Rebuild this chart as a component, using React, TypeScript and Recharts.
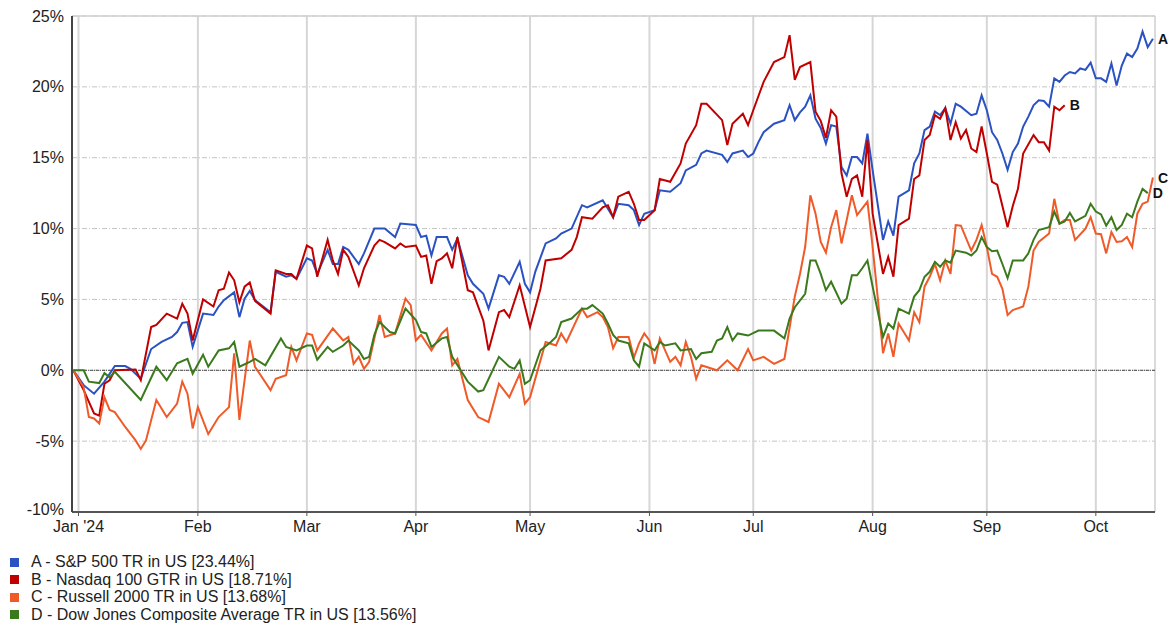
import React from 'react'
import {
  LineChart,
  Line,
  XAxis,
  YAxis,
  CartesianGrid,
  ReferenceLine,
  ReferenceDot,
} from 'recharts'

// x = trading-day index, 0 = 29 Dec 2023 (base date)
const monthTicks = [1, 24, 45, 66, 88, 111, 131, 154, 176, 197]
const monthLabels = ["Jan '24", 'Feb', 'Mar', 'Apr', 'May', 'Jun', 'Jul', 'Aug', 'Sep', 'Oct']
const yTicks = [-10, -5, 0, 5, 10, 15, 20, 25]

const spxDays = [0, 2, 4, 6, 7, 8, 10, 11, 13, 15, 17, 19, 20, 21, 22, 23, 25, 27, 28, 29, 31, 32, 33, 34, 35, 38, 39, 41, 42, 43, 45, 46, 47, 49, 50, 51, 52, 53, 55, 56, 58, 60, 62, 63, 66, 67, 68, 69, 70, 72, 73, 74, 76, 77, 79, 80, 82, 83, 84, 86, 87, 88, 89, 91, 93, 94, 96, 98, 99, 102, 104, 105, 107, 108, 109, 110, 112, 113, 115, 117, 118, 120, 121, 122, 125, 126, 127, 129, 130, 131, 132, 133, 135, 137, 138, 139, 140, 141, 142, 143, 144, 145, 146, 147, 148, 149, 150, 151, 152, 153, 154, 156, 157, 158, 159, 161, 162, 163, 164, 165, 166, 167, 168, 169, 170, 171, 173, 174, 175, 176, 177, 178, 179, 180, 181, 182, 183, 184, 185, 186, 187, 188, 189, 190, 191, 192, 193, 194, 195, 196, 197, 198, 199, 200, 201, 202, 203, 204, 205, 206, 207, 208]
const spxVals = [0, -1.05, -1.65, -0.8, -0.25, 0.3, 0.3, 0.1, -0.6, 1.5, 2.0, 2.35, 2.7, 3.35, 3.4, 1.65, 4.0, 3.9, 4.5, 4.95, 5.5, 3.75, 5.05, 5.6, 4.95, 4.1, 6.95, 6.6, 6.7, 6.45, 7.9, 7.75, 6.8, 8.5, 7.5, 7.5, 8.7, 8.5, 7.5, 8.25, 10.0, 10.0, 9.4, 10.35, 10.25, 9.4, 9.5, 8.1, 9.4, 9.4, 8.5, 9.3, 6.7, 6.1, 5.4, 4.35, 6.7, 6.6, 6.1, 7.65, 6.1, 5.5, 6.95, 8.95, 9.3, 9.65, 10.0, 11.65, 11.5, 12.0, 10.8, 11.75, 11.65, 11.3, 10.25, 11.05, 11.3, 12.7, 12.6, 13.2, 14.1, 14.5, 15.3, 15.5, 15.2, 14.7, 15.3, 15.5, 15.05, 15.3, 16.1, 16.8, 17.4, 17.65, 18.7, 17.65, 18.2, 18.6, 19.4, 17.75, 17.1, 16.0, 17.3, 17.2, 14.35, 13.75, 15.05, 15.05, 14.6, 16.7, 14.1, 9.2, 10.5, 9.5, 12.25, 12.7, 14.6, 15.3, 16.95, 17.2, 18.25, 18.0, 18.5, 17.4, 18.8, 18.6, 18.0, 18.1, 19.4, 18.35, 16.8, 16.25, 15.3, 14.15, 15.4, 16.0, 17.2, 17.9, 18.7, 19.05, 19.0, 18.6, 20.6, 20.35, 20.8, 21.05, 20.95, 21.3, 21.2, 21.7, 20.6, 20.6, 20.35, 21.65, 20.1, 21.5, 22.35, 22.1, 22.7, 23.9, 22.8, 23.4]

const ndxDays = [0, 2, 4, 5, 6, 7, 8, 12, 13, 15, 16, 18, 20, 21, 22, 23, 25, 27, 28, 29, 30, 31, 32, 33, 34, 35, 38, 39, 41, 42, 43, 45, 46, 47, 49, 50, 51, 52, 53, 55, 56, 58, 59, 60, 62, 63, 64, 66, 67, 68, 69, 70, 71, 72, 73, 74, 76, 77, 79, 80, 82, 83, 84, 86, 88, 90, 91, 94, 96, 97, 98, 100, 102, 103, 104, 105, 107, 108, 109, 110, 112, 113, 115, 117, 118, 120, 121, 122, 125, 126, 127, 129, 130, 131, 133, 135, 137, 138, 139, 140, 142, 143, 144, 145, 146, 147, 148, 149, 150, 151, 152, 153, 154, 156, 157, 158, 159, 161, 162, 163, 164, 165, 166, 167, 168, 169, 170, 171, 172, 173, 174, 175, 176, 177, 178, 180, 181, 182, 183, 185, 186, 187, 188, 189, 190, 191]
const ndxVals = [0, -1.4, -3.05, -3.2, -0.95, -0.7, 0, 0.05, -0.7, 3.05, 3.2, 4.0, 3.65, 4.7, 4.0, 2.1, 5.0, 4.5, 5.65, 5.75, 6.9, 6.35, 4.8, 5.9, 6.2, 4.9, 4.0, 7.05, 6.8, 6.8, 6.45, 8.8, 8.6, 6.6, 9.2, 7.75, 6.8, 8.5, 8.0, 6.0, 7.2, 8.8, 9.2, 9.05, 8.6, 8.95, 8.7, 8.8, 8.0, 8.1, 6.1, 7.7, 7.9, 8.25, 7.2, 9.4, 5.65, 5.5, 3.5, 1.4, 4.1, 4.25, 3.75, 6.0, 3.05, 5.75, 7.75, 7.9, 8.5, 9.4, 10.8, 10.7, 11.5, 11.65, 10.8, 12.25, 12.6, 11.75, 10.6, 10.6, 11.3, 13.5, 13.3, 14.6, 16.0, 17.3, 18.8, 18.8, 17.65, 15.9, 17.4, 18.1, 17.3, 18.35, 20.35, 21.75, 22.1, 23.65, 20.5, 21.4, 21.75, 18.25, 17.6, 16.4, 18.35, 17.9, 13.9, 12.25, 13.5, 13.75, 12.25, 16.25, 11.05, 6.8, 8.0, 6.6, 10.25, 10.7, 13.5, 13.75, 16.25, 16.6, 18.0, 17.75, 18.5, 16.25, 17.5, 16.35, 16.95, 15.65, 15.4, 17.2, 15.3, 13.3, 13.1, 10.1, 11.6, 12.8, 15.3, 16.6, 16.1, 16.1, 15.5, 18.6, 18.35, 18.7]

const rutDays = [0, 2, 3, 4, 5, 6, 7, 8, 10, 12, 13, 14, 16, 18, 20, 21, 22, 23, 24, 26, 28, 30, 31, 32, 34, 35, 36, 38, 39, 41, 42, 43, 45, 46, 47, 50, 52, 53, 54, 55, 56, 57, 59, 60, 62, 64, 65, 66, 67, 69, 71, 72, 73, 74, 76, 78, 80, 82, 84, 86, 87, 88, 90, 91, 93, 94, 95, 98, 99, 101, 102, 103, 104, 105, 107, 108, 109, 110, 111, 112, 113, 115, 116, 117, 118, 119, 120, 121, 124, 126, 128, 130, 131, 133, 135, 137, 139, 140, 141, 142, 143, 144, 145, 146, 147, 148, 149, 150, 151, 153, 154, 155, 156, 157, 158, 159, 161, 162, 163, 164, 165, 166, 167, 168, 169, 170, 171, 173, 174, 175, 176, 177, 178, 179, 180, 181, 183, 184, 185, 186, 188, 189, 190, 191, 192, 193, 195, 196, 197, 198, 199, 200, 201, 202, 203, 204, 205, 206, 207, 208]
const rutVals = [0, -1.2, -3.3, -3.4, -3.75, -1.9, -2.8, -2.95, -4.0, -4.95, -5.55, -4.95, -2.1, -3.3, -2.35, -0.8, -1.65, -4.1, -2.6, -4.5, -3.3, -2.6, 1.2, -3.5, 2.1, 0.25, -0.3, -1.4, -0.6, -0.35, 1.65, 0.7, 2.6, 2.5, 1.4, 2.95, 2.1, 2.35, 0.45, 0.95, 0.1, 0.6, 3.9, 2.35, 2.6, 5.05, 4.6, 2.1, 2.5, 1.4, 2.6, 2.95, 0.35, 0.8, -2.1, -3.3, -3.65, -0.95, -1.9, -0.25, -2.35, -1.9, 0.7, 2.0, 1.75, 2.6, 2.0, 4.35, 3.75, 4.1, 3.75, 3.05, 1.55, 2.35, 2.35, 0.9, 1.9, 2.6, 2.1, 0.45, 2.25, 0.6, 0.95, 0.35, 2.0, 0.95, -0.6, 0.35, 0.0, 0.7, 0.0, 1.5, 0.7, 0.95, 0.45, 0.8, 5.2, 6.8, 8.7, 12.35, 11.05, 9.05, 8.3, 10.1, 11.3, 8.95, 10.6, 12.35, 10.95, 11.9, 8.7, 5.05, 1.2, 2.6, 0.95, 3.3, 2.1, 4.1, 3.4, 5.9, 6.6, 7.5, 6.35, 7.75, 6.8, 10.25, 10.2, 8.45, 9.2, 10.25, 8.7, 6.8, 6.6, 5.75, 3.9, 4.25, 4.5, 5.9, 8.45, 9.05, 9.65, 12.1, 10.35, 10.6, 10.6, 9.2, 10.0, 10.8, 9.65, 9.6, 8.25, 9.75, 9.05, 9.1, 9.4, 8.7, 11.05, 11.75, 11.9, 13.6]

const djaDays = [0, 2, 3, 5, 6, 7, 8, 13, 16, 18, 20, 22, 23, 25, 26, 28, 30, 31, 32, 34, 35, 37, 40, 41, 43, 45, 46, 47, 49, 50, 52, 53, 55, 56, 57, 58, 59, 61, 62, 64, 66, 67, 68, 69, 71, 72, 73, 76, 78, 79, 82, 84, 85, 86, 87, 88, 90, 92, 93, 94, 96, 98, 99, 100, 102, 103, 104, 105, 107, 108, 109, 110, 112, 113, 114, 116, 117, 119, 120, 121, 123, 124, 125, 126, 127, 128, 130, 132, 135, 137, 138, 139, 141, 142, 143, 144, 145, 146, 148, 149, 150, 151, 152, 153, 154, 156, 157, 158, 159, 161, 162, 163, 164, 165, 166, 167, 168, 169, 170, 172, 173, 174, 175, 176, 177, 178, 179, 180, 181, 183, 184, 185, 186, 188, 189, 190, 191, 192, 193, 195, 196, 197, 198, 199, 200, 201, 202, 203, 204, 205, 206, 207]
const djaVals = [0, 0, -0.8, -0.9, -0.2, -0.5, -0.1, -2.1, 0.25, -0.7, 0.5, 0.8, -0.25, 1.1, 0.25, 1.4, 1.55, 2.0, 0.25, 0.6, 0.8, 0.35, 2.25, 1.65, 1.4, 1.75, 1.75, 0.75, 1.65, 1.3, 1.75, 2.1, 1.4, 0.8, 0.95, 2.5, 3.4, 2.7, 2.6, 4.35, 3.55, 2.7, 2.6, 1.65, 2.25, 2.35, 0.95, -0.8, -1.5, -1.4, 0.95, 0.25, 0.1, 0.7, -0.95, -0.7, 1.4, 2.0, 2.35, 3.4, 3.65, 4.35, 4.35, 4.6, 4.0, 3.3, 2.5, 2.1, 1.9, 0.7, 0.25, 1.9, 1.4, 2.0, 1.75, 1.9, 1.4, 1.5, 0.8, 1.2, 1.3, 2.1, 2.25, 3.05, 2.1, 2.6, 2.45, 2.8, 2.8, 2.25, 3.65, 4.45, 5.4, 7.75, 7.75, 6.8, 5.65, 6.25, 4.7, 5.05, 6.7, 6.7, 7.2, 7.75, 5.9, 2.35, 3.3, 2.95, 4.35, 4.0, 5.2, 5.65, 6.6, 6.95, 7.65, 7.3, 7.75, 7.6, 8.45, 8.3, 8.1, 8.45, 9.4, 8.7, 8.4, 8.45, 7.5, 6.5, 7.75, 7.75, 8.25, 9.2, 9.9, 10.1, 11.2, 10.35, 10.5, 11.1, 10.5, 10.9, 11.75, 11.2, 11.0, 10.2, 10.8, 9.9, 10.25, 11.05, 10.8, 11.9, 12.8, 12.5]

const toPoints = (days: number[], vals: number[]) => days.map((d, i) => ({ d, v: vals[i] }))

const series = [
  { key: 'A', name: 'A - S&P 500 TR in US [23.44%]', color: '#2b52c2', data: toPoints(spxDays, spxVals) },
  { key: 'B', name: 'B - Nasdaq 100 GTR in US [18.71%]', color: '#c00000', data: toPoints(ndxDays, ndxVals) },
  { key: 'C', name: 'C - Russell 2000 TR in US [13.68%]', color: '#f05a28', data: toPoints(rutDays, rutVals) },
  { key: 'D', name: 'D - Dow Jones Composite Average TR in US [13.56%]', color: '#3b7a1c', data: toPoints(djaDays, djaVals) },
]

const FONT = '"Liberation Sans", Arial, sans-serif'

const YTick = ({ x, y, payload }: any) => (
  // bottom label sits a bit higher so it clears "Jan '24"
  <text
    x={x}
    y={y}
    dy={payload.value === -10 ? 2.5 : 5.5}
    textAnchor="end"
    fontSize={16}
    fill="#222"
    fontFamily={FONT}
  >
    {payload.value}%
  </text>
)

const XTick = ({ x, y, payload }: any) => {
  const idx = monthTicks.indexOf(payload.value)
  return (
    <text x={x} y={y} dy={16} textAnchor="middle" fontSize={16} fill="#222" fontFamily={FONT}>
      {monthLabels[idx]}
    </text>
  )
}

const EndLabel = (text: string) => (props: any) => {
  const { viewBox } = props
  return (
    <text
      x={viewBox.x + 5}
      y={viewBox.y + 5}
      fontSize={14}
      fontWeight="bold"
      fill="#111"
      fontFamily={FONT}
    >
      {text}
    </text>
  )
}

export default function App() {
  return (
    <div style={{ position: 'absolute', left: 0, top: 0, width: 1175, height: 624, background: '#fff', fontFamily: FONT }}>
      <LineChart width={1175} height={540} margin={{ top: 16, right: 20, bottom: 0, left: 0 }}>
        <CartesianGrid vertical={false} stroke="#c4c4c4" strokeDasharray="5 2 1 2" />
        {monthTicks.map((m) => (
          <ReferenceLine key={m} x={m} stroke="#d6d6d6" strokeWidth={2} />
        ))}
        <ReferenceLine y={25} stroke="#cfcfcf" strokeWidth={1.5} />
        <ReferenceLine x={208.4} stroke="#cfcfcf" strokeWidth={1.5} />
        <ReferenceLine y={0} stroke="#444" strokeDasharray="3 1 1 1" />
        <XAxis
          type="number"
          dataKey="d"
          domain={[-0.25, 208.4]}
          ticks={monthTicks}
          allowDataOverflow
          height={28}
          tick={<XTick />}
          tickSize={4}
          tickMargin={0}
          tickLine={{ stroke: '#555' }}
          axisLine={{ stroke: '#555', strokeWidth: 2 }}
        />
        <YAxis
          type="number"
          domain={[-10, 25]}
          ticks={yTicks}
          width={72}
          tick={<YTick />}
          tickLine={false}
          tickSize={6}
          tickMargin={2}
          axisLine={{ stroke: '#444', strokeWidth: 2 }}
          allowDataOverflow
        />
        {series.map((s) => (
          <Line
            key={s.key}
            data={s.data}
            dataKey="v"
            type="linear"
            stroke={s.color}
            strokeWidth={2}
            dot={false}
            activeDot={false}
            isAnimationActive={false}
          />
        ))}
        {series.map((s) => {
          const last = s.data[s.data.length - 1]
          return (
            <ReferenceDot
              key={'lbl' + s.key}
              x={last.d}
              y={last.v}
              r={0}
              stroke="none"
              fill="none"
              label={EndLabel(s.key)}
            />
          )
        })}
      </LineChart>
      {series.map((s, i) => {
        const cy = 562 + i * 17.5
        return (
          <div key={'leg' + s.key}>
            <div
              style={{
                position: 'absolute',
                left: 10,
                top: cy - 4.5,
                width: 9,
                height: 9,
                background: s.color,
              }}
            />
            <div
              style={{
                position: 'absolute',
                left: 31,
                top: cy - 9,
                height: 18,
                lineHeight: '18px',
                fontSize: 16,
                color: '#222',
                whiteSpace: 'nowrap',
              }}
            >
              {s.name}
            </div>
          </div>
        )
      })}
    </div>
  )
}
